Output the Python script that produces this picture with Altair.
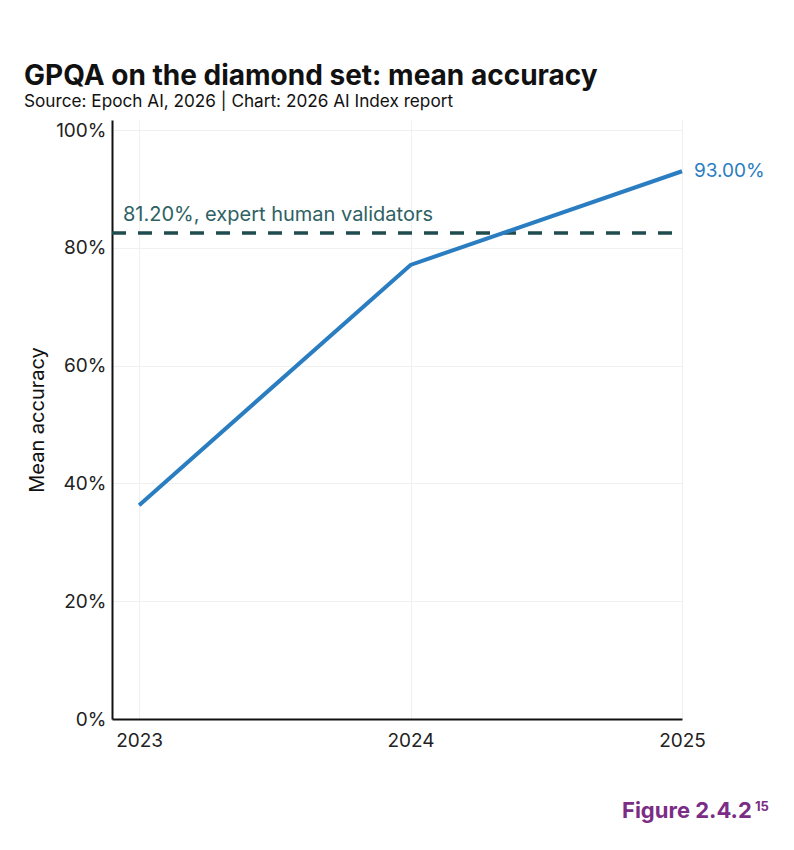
import altair as alt
import pandas as pd

# ---- data ----
years = [2023, 2024, 2025]
accuracy = [36.3, 77.1, 93.0]
baseline_value = 82.5          # drawn position of the expert line
baseline_label = "81.20%, expert human validators"
end_label = "93.00%"
y_ticks = [0, 20, 40, 60, 80, 100]
x_ticks = [2023, 2024, 2025]

title_text = "GPQA on the diamond set: mean accuracy"
subtitle_text = "Source: Epoch AI, 2026 | Chart: 2026 AI Index report"
figure_text = "Figure 2.4.2"
figure_sup = "15"

FONT = "Inter"
BLUE = "#2a7dc0"
TEAL_LINE = "#1f4c4e"
TEAL_TEXT = "#2e6163"

df = pd.DataFrame({"year": years, "acc": accuracy})
df_base = pd.DataFrame({"v": [baseline_value], "label": [baseline_label]})
df_end = pd.DataFrame({"year": [years[-1]], "acc": [accuracy[-1]], "label": [end_label]})
one = pd.DataFrame({"a": [0]})

W, H = 570, 599
xs = alt.Scale(domain=[2022.9, 2025], nice=False, zero=False)
ys = alt.Scale(domain=[0, 101.7], nice=False, zero=True)

xaxis = alt.Axis(values=x_ticks, tickCount=3, labelExpr="format(datum.value, 'd')", title=None,
                 ticks=False, domainColor="#111111", domainWidth=2,
                 grid=True, gridColor="#f0f0f0", gridWidth=1,
                 labelFont=FONT, labelFontSize=19, labelColor="#222222",
                 labelPadding=12, labelFlush=False, labelOverlap=False, labelBound=False)
yaxis = alt.Axis(values=y_ticks, labelExpr="datum.value + '%'", title="Mean accuracy",
                 ticks=False, domainColor="#111111", domainWidth=2,
                 grid=True, gridColor="#f0f0f0", gridWidth=1,
                 labelFont=FONT, labelFontSize=19, labelColor="#222222",
                 labelPadding=6, labelOverlap=False, titleFont=FONT, titleFontSize=20,
                 titleFontWeight="normal", titleColor="#111111", titlePadding=8)

line = alt.Chart(df).mark_line(color=BLUE, strokeWidth=4, strokeCap="butt").encode(
    x=alt.X("year:Q", scale=xs, axis=xaxis),
    y=alt.Y("acc:Q", scale=ys, axis=yaxis),
)

base_rule = alt.Chart(df_base).mark_rule(color=TEAL_LINE, strokeWidth=3.5,
                                         strokeDash=[14, 12]).encode(
    y=alt.Y("v:Q", scale=ys, axis=yaxis), x=alt.value(0), x2=alt.value(W))

base_text = alt.Chart(df_base).mark_text(align="left", baseline="alphabetic", dy=-12,
                                         font=FONT, fontSize=20, color=TEAL_TEXT).encode(
    y=alt.Y("v:Q", scale=ys, axis=yaxis), x=alt.value(11), text="label:N")

end_text = alt.Chart(df_end).mark_text(align="left", baseline="middle", dx=12,
                                       font=FONT, fontSize=19, color=BLUE).encode(
    x=alt.X("year:Q", scale=xs, axis=xaxis), y=alt.Y("acc:Q", scale=ys, axis=yaxis),
    text="label:N")

title = alt.Chart(one).mark_text(align="left", baseline="alphabetic", font=FONT,
                                 fontSize=28, fontWeight="bold", color="#111111").encode(
    x=alt.value(-88), y=alt.value(-35), text=alt.value(title_text))
subtitle = alt.Chart(one).mark_text(align="left", baseline="alphabetic", font=FONT,
                                    fontSize=17.2, color="#111111").encode(
    x=alt.value(-88), y=alt.value(-13), text=alt.value(subtitle_text))
fig = alt.Chart(one).mark_text(align="left", baseline="alphabetic", font=FONT,
                               fontSize=22, fontWeight="bold", color="#7b2d86").encode(
    x=alt.value(510), y=alt.value(698), text=alt.value(figure_text))
fig_sup = alt.Chart(one).mark_text(align="left", baseline="alphabetic", font=FONT,
                                   fontSize=13, fontWeight="bold", color="#7b2d86").encode(
    x=alt.value(643), y=alt.value(691), text=alt.value(figure_sup))

chart = alt.layer(base_rule, line, base_text, end_text, title, subtitle, fig, fig_sup).properties(
    width=W, height=H,
    autosize=alt.AutoSizeParams(type="none"),
    padding={"left": 112, "top": 120, "right": 112, "bottom": 131},
    background="white",
).configure_view(stroke=None)

chart.save("out.html", embed_options={"renderer": "svg", "actions": False})
